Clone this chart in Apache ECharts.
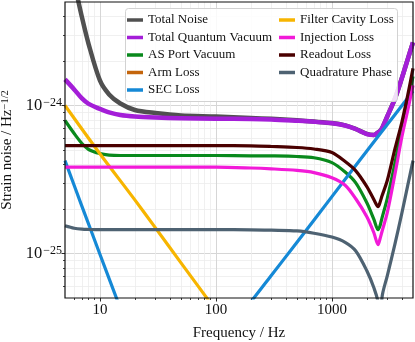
<!DOCTYPE html>
<html><head><meta charset="utf-8">
<script src="https://cdn.jsdelivr.net/npm/echarts@6/dist/echarts.min.js"></script>
<style>html,body{margin:0;padding:0;background:#fff}#c{width:415px;height:342px}</style>
</head><body><div id="c"></div>
<script>
// ---- data (frequency in Hz, strain noise in 1/sqrt(Hz)) ----
const freqHz = [5,6,7,8,10,12,15,20,30,50,100,200,300,500,700,1000,1300,1600,2000,2300,2500,2600,2700,3000,3500,4000,4500,5000];
const totalNoise = [1.27e-23,6.78e-24,3.94e-24,2.59e-24,1.475e-24,1.187e-24,1.031e-24,9.32e-25,8.89e-25,8.56e-25,8.42e-25,8.23e-25,8.12e-25,7.93e-25,7.78e-25,7.60e-25,7.33e-25,6.94e-25,6.42e-25,6.32e-25,6.58e-25,6.73e-25,7.00e-25,8.43e-25,1.116e-24,1.524e-24,2.05e-24,2.67e-24];
const totalQuantum = [1.50e-24,1.283e-24,1.115e-24,1.024e-24,9.47e-25,8.97e-25,8.62e-25,8.42e-25,8.29e-25,8.19e-25,8.13e-25,8.10e-25,8.04e-25,7.88e-25,7.76e-25,7.58e-25,7.32e-25,6.93e-25,6.41e-25,6.31e-25,6.57e-25,6.72e-25,6.99e-25,8.42e-25,1.115e-24,1.523e-24,2.048e-24,2.67e-24];
const asPortVacuum = [7.91e-25,6.46e-25,5.53e-25,5.04e-25,4.73e-25,4.62e-25,4.59e-25,4.59e-25,4.59e-25,4.59e-25,4.59e-25,4.57e-25,4.56e-25,4.52e-25,4.43e-25,4.11e-25,3.55e-25,3.01e-25,2.20e-25,1.70e-25,1.447e-25,1.54e-25,1.734e-25,2.35e-25,4.11e-25,6.99e-25,1.064e-24,1.571e-24];
const armLoss = [3.4e-26,3.4e-26,3.4e-26,3.4e-26,3.4e-26,3.4e-26,3.4e-26,3.4e-26,3.4e-26,3.4e-26,3.4e-26,3.4e-26,3.35e-26,3.3e-26,3.2e-26,3.0e-26,2.7e-26,2.3e-26,1.7e-26,1.3e-26,1.1e-26,1.2e-26,1.4e-26,1.9e-26,2.6e-26,3.3e-26,3.9e-26,4.4e-26];
const readoutLoss = [5.36e-25,5.36e-25,5.36e-25,5.36e-25,5.36e-25,5.36e-25,5.36e-25,5.36e-25,5.36e-25,5.36e-25,5.36e-25,5.33e-25,5.28e-25,5.20e-25,5.08e-25,4.81e-25,4.18e-25,3.63e-25,2.83e-25,2.31e-25,2.07e-25,2.22e-25,2.44e-25,3.11e-25,5.12e-25,7.67e-25,1.169e-24,1.78e-24];
const injectionLoss = [3.83e-25,3.83e-25,3.83e-25,3.83e-25,3.83e-25,3.83e-25,3.83e-25,3.83e-25,3.83e-25,3.83e-25,3.83e-25,3.78e-25,3.73e-25,3.64e-25,3.52e-25,3.25e-25,2.89e-25,2.35e-25,1.77e-25,1.38e-25,1.145e-25,1.257e-25,1.402e-25,1.886e-25,3.46e-25,6.07e-25,9.25e-25,1.365e-24];
const quadPhase = [1.54e-25,1.481e-25,1.458e-25,1.452e-25,1.447e-25,1.447e-25,1.447e-25,1.447e-25,1.447e-25,1.447e-25,1.447e-25,1.445e-25,1.436e-25,1.42e-25,1.37e-25,1.29e-25,1.19e-25,1.043e-25,7.64e-26,5.86e-26,4.64e-26,2.0e-26,5.01e-26,7.06e-26,1.163e-25,1.857e-25,2.87e-25,4.24e-25];
const secFreq = [5,7,10,15,20,30,50,100,200,300,500,1000,2000,3000,4000,5000];
const secLoss = [4.24e-25,2.08e-25,9.88e-26,4.25e-26,2.31e-26,1.3e-26,1.3e-26,2.4e-26,4.71e-26,7.1e-26,1.19e-25,2.42e-25,4.92e-25,7.43e-25,9.95e-25,1.25e-24];
const fcFreq = [5,10,20,30,50,100,200,300];
const fcLoss = [1.0e-24,4.72e-25,2.30e-25,1.495e-25,8.64e-26,4.12e-26,1.95e-26,1.28e-26];

const xRange = [5, 5000];
const yRange = [5e-26, 5e-24];
const xMajorTicks = [10, 100, 1000];
const yMajorTicks = [1e-25, 1e-24];

// ---- helpers ----
const L = Math.log10;
const FONT = "'Liberation Serif','Times New Roman','DejaVu Serif',serif";
function minorTicks(lo, hi) {
  const out = [];
  for (let e = Math.floor(L(lo)) - 1; e <= Math.ceil(L(hi)); e++) {
    for (let k = 2; k <= 9; k++) {
      const v = k * Math.pow(10, e);
      const lv = L(v);
      if (lv > L(lo) + 1e-6 && lv < L(hi) - 1e-6) out.push(lv);
    }
  }
  return out;
}
function pairs(fs, vs) { return fs.map((f, i) => [L(f), L(vs[i])]); }

const seriesDefs = [
  {name: 'Total Noise', f: freqHz, v: totalNoise, color: '#505050', w: 4.5},
  {name: 'Total Quantum Vacuum', f: freqHz, v: totalQuantum, color: '#a41ed8', w: 4.5},
  {name: 'AS Port Vacuum', f: freqHz, v: asPortVacuum, color: '#09891c', w: 3.2},
  {name: 'Arm Loss', f: freqHz, v: armLoss, color: '#c4650c', w: 3.2},
  {name: 'SEC Loss', f: secFreq, v: secLoss, color: '#1589d6', w: 3.2},
  {name: 'Filter Cavity Loss', f: fcFreq, v: fcLoss, color: '#f7b500', w: 3.2},
  {name: 'Injection Loss', f: freqHz, v: injectionLoss, color: '#f21ad8', w: 3.2},
  {name: 'Readout Loss', f: freqHz, v: readoutLoss, color: '#4a0000', w: 3.2},
  {name: 'Quadrature Phase', f: freqHz, v: quadPhase, color: '#4e6272', w: 3.2}
];

const series = seriesDefs.map(s => ({
  type: 'line', name: s.name, data: pairs(s.f, s.v),
  xAxisIndex: 1, yAxisIndex: 1, showSymbol: false, symbol: 'none',
  smooth: 0.3, clip: true, silent: true,
  lineStyle: {width: s.w, color: s.color, cap: 'butt', join: 'round'},
  itemStyle: {color: s.color}
}));

const xMin = L(xRange[0]), xMax = L(xRange[1]);
const yMin = L(yRange[0]), yMax = L(yRange[1]);
const xMaj = xMajorTicks.map(L), yMaj = yMajorTicks.map(L);

const chart = echarts.init(document.getElementById('c'), null, {renderer: 'canvas'});
const legendText = {fontFamily: FONT, fontSize: 13, color: '#111', lineHeight: 15};
chart.setOption({
  animation: false,
  backgroundColor: '#fff',
  grid: {left: 65, right: 2, top: 2, bottom: 44, show: false, containLabel: false, outerBoundsMode: 'none'},
  xAxis: [
    {type: 'value', position: 'bottom', min: xMin, max: xMax,
     axisLine: {show: false},
     axisTick: {show: true, length: 2, customValues: minorTicks(xRange[0], xRange[1]), lineStyle: {color: '#111', width: 0.8}},
     axisLabel: {show: false},
     splitLine: {show: true, lineStyle: {color: '#ececec', width: 0.8}}},
    {type: 'value', position: 'bottom', min: xMin, max: xMax,
     axisLine: {show: false},
     axisTick: {show: true, length: 3.5, customValues: xMaj, lineStyle: {color: '#111', width: 0.9}},
     axisLabel: {show: true, customValues: xMaj, margin: 5, fontFamily: FONT, fontSize: 15, color: '#111',
       formatter: v => String(Math.round(Math.pow(10, v)))},
     splitLine: {show: true, lineStyle: {color: '#d6d6d6', width: 1}},
     name: 'Frequency / Hz', nameLocation: 'middle', nameGap: 28,
     nameTextStyle: {fontFamily: FONT, fontSize: 15, color: '#111'}}
  ],
  yAxis: [
    {type: 'value', position: 'left', min: yMin, max: yMax,
     axisLine: {show: false},
     axisTick: {show: true, length: 2, customValues: minorTicks(yRange[0], yRange[1]), lineStyle: {color: '#111', width: 0.8}},
     axisLabel: {show: false},
     splitLine: {show: true, lineStyle: {color: '#ececec', width: 0.8}}},
    {type: 'value', position: 'left', min: yMin, max: yMax,
     axisLine: {show: false},
     axisTick: {show: true, length: 3.5, customValues: yMaj, lineStyle: {color: '#111', width: 0.9}},
     axisLabel: {show: true, customValues: yMaj, margin: 3, color: '#111',
       formatter: v => '{b|10}{s|\u2212' + Math.abs(Math.round(v)) + '}',
       rich: {b: {fontFamily: FONT, fontSize: 16.5, color: '#111'},
              s: {fontFamily: FONT, fontSize: 12, color: '#111', verticalAlign: 'top', padding: [0, 0, 0, 1]}}},
     splitLine: {show: true, lineStyle: {color: '#d6d6d6', width: 1}},
     name: 'Strain noise / Hz{s|\u22121/2}', nameLocation: 'middle', nameGap: 40,
     nameTextStyle: {fontFamily: FONT, fontSize: 15, color: '#111',
       rich: {s: {fontFamily: FONT, fontSize: 10.5, color: '#111', verticalAlign: 'top'}}}}
  ],
  legend: [
    {left: 127, top: 12.5, orient: 'vertical', padding: 0, itemWidth: 16, itemHeight: 3.5, itemGap: 2.5,
     icon: 'rect', selectedMode: false, z: 6, textStyle: legendText,
     data: seriesDefs.slice(0, 5).map(s => s.name)},
    {left: 279, top: 12.5, orient: 'vertical', padding: 0, itemWidth: 16, itemHeight: 3.5, itemGap: 2.5,
     icon: 'rect', selectedMode: false, z: 6, textStyle: legendText,
     data: seriesDefs.slice(5).map(s => s.name)}
  ],
  graphic: [
    {type: 'rect', silent: true, z: 5,
     shape: {x: 125.5, y: 8.5, width: 272, height: 93, r: 3},
     style: {fill: 'rgba(255,255,255,0.85)', stroke: '#d2d2d2', lineWidth: 1}},
    {type: 'rect', silent: true, z: 20,
     shape: {x: 65, y: 2, width: 348, height: 296},
     style: {fill: 'none', stroke: '#111', lineWidth: 1.2}}
  ],
  series: series
});
</script>
</body></html>
